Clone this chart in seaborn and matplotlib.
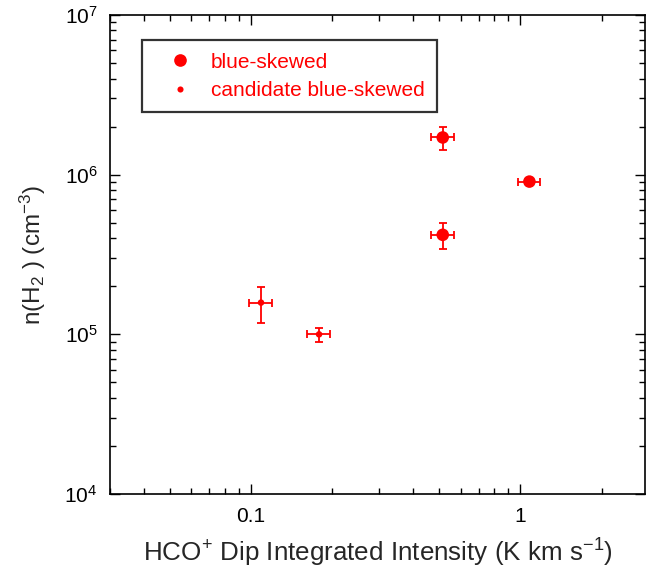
import numpy as np
import pandas as pd
import matplotlib
matplotlib.use("Agg")
import matplotlib.pyplot as plt
from matplotlib.lines import Line2D
import matplotlib.ticker as mticker
import seaborn as sns

# Data
categories = ["blue-skewed", "blue-skewed", "blue-skewed",
              "candidate blue-skewed", "candidate blue-skewed"]
dip_intensity = [0.515, 1.08, 0.515, 0.109, 0.179]
dip_err = [0.05, 0.1, 0.05, 0.011, 0.017]
density = [1.71e6, 9.05e5, 4.2e5, 1.58e5, 1.0e5]
density_err = [2.8e5, 0.0, 8.0e4, 4.0e4, 1.0e4]

df = pd.DataFrame({"cat": categories, "x": dip_intensity, "xerr": dip_err,
                   "y": density, "yerr": density_err})

sns.set_theme(style="ticks")
plt.rcParams["font.family"] = ["Liberation Sans", "DejaVu Sans"]
plt.rcParams["mathtext.fontset"] = "custom"
plt.rcParams["mathtext.rm"] = "Liberation Sans"
plt.rcParams["mathtext.it"] = "Liberation Sans:italic"
plt.rcParams["mathtext.bf"] = "Liberation Sans:bold"

fig = plt.figure(figsize=(6.47, 5.73), dpi=100)
ax = fig.add_axes([110/647, 1-494/573, 535/647, 479/573])

ax.errorbar(df["x"], df["y"], xerr=df["xerr"], yerr=df["yerr"], fmt="none",
            ecolor="red", elinewidth=1.3, capsize=2.7, capthick=1.3, zorder=2)

sns.scatterplot(data=df, x="x", y="y", size="cat",
                sizes={"blue-skewed": 82, "candidate blue-skewed": 22},
                color="red", edgecolor="none", linewidth=0, ax=ax,
                legend=False, zorder=3)

ax.set_xscale("log")
ax.set_yscale("log")
ax.set_xlim(0.03, 2.9)
ax.set_ylim(1e4, 1e7)

ax.xaxis.set_major_locator(mticker.FixedLocator([0.1, 1]))
ax.xaxis.set_major_formatter(mticker.FixedFormatter(["0.1", "1"]))
ax.xaxis.set_minor_locator(mticker.LogLocator(base=10, subs=np.arange(2, 10)))
ax.xaxis.set_minor_formatter(mticker.NullFormatter())
ax.yaxis.set_major_locator(mticker.LogLocator(base=10, numticks=10))
ax.yaxis.set_minor_locator(mticker.LogLocator(base=10, subs=np.arange(2, 10), numticks=10))
ax.yaxis.set_minor_formatter(mticker.NullFormatter())

ax.tick_params(which="both", direction="in", top=True, right=True,
               width=1.0, colors="black")
ax.tick_params(which="major", length=7, labelsize=15, pad=9)
ax.tick_params(which="minor", length=4)
for s in ax.spines.values():
    s.set_linewidth(1.2)
    s.set_color("black")

ax.set_xlabel("HCO$^{+}$ Dip Integrated Intensity (K km s$^{-1}$)",
              fontsize=18.7, labelpad=8)
ax.set_ylabel("n(H$_{2}$ ) (cm$^{-3}$)", fontsize=17.5, labelpad=12)

handles = [Line2D([], [], marker="o", linestyle="none", color="red",
                  markersize=9.1, markeredgewidth=0),
           Line2D([], [], marker="o", linestyle="none", color="red",
                  markersize=4.4, markeredgewidth=0)]
leg = ax.legend(handles, ["blue-skewed", "candidate blue-skewed"],
                loc="upper left", bbox_to_anchor=(32/535, 1-25/479),
                fontsize=15, frameon=True, fancybox=False,
                borderpad=0.6, handlelength=2.45, handletextpad=0.26,
                labelspacing=0.45, borderaxespad=0)
leg.get_frame().set_edgecolor("black")
leg.get_frame().set_linewidth(1.6)
for t in leg.get_texts():
    t.set_color("red")

fig.savefig("out.png", dpi=100)
